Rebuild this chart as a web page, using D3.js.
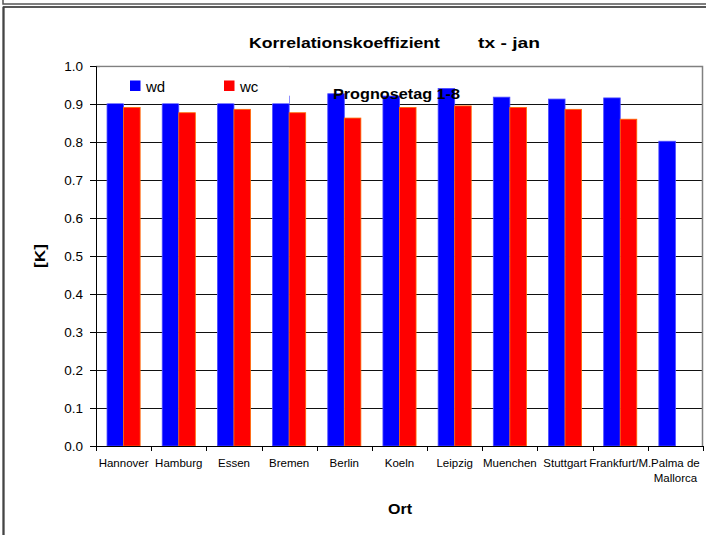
<!DOCTYPE html>
<html>
<head>
<meta charset="utf-8">
<script src="https://cdn.jsdelivr.net/npm/d3@7"></script>
<style>
  body { margin: 0; background: #fff; }
  svg { display: block; font-family: Arial, "Liberation Sans", sans-serif; }
</style>
</head>
<body>
<svg id="chart" width="706" height="535"></svg>
<script>
// Correlation coefficients per station, tx - January, forecast days 1-8
const stations = ["Hannover", "Hamburg", "Essen", "Bremen", "Berlin", "Koeln",
  "Leipzig", "Muenchen", "Stuttgart", "Frankfurt/M.", "Palma de\nMallorca"];
const seriesNames = ["wd", "wc"];
const wdValues = [0.925, 0.92, 0.925, 0.921, 0.927, 0.921, 0.941, 0.918, 0.913, 0.916, 0.802];
const wcValues = [0.891, 0.877, 0.886, 0.877, 0.863, 0.891, 0.895, 0.891, 0.886, 0.860, null];
const yTicks = [0.0, 0.1, 0.2, 0.3, 0.4, 0.5, 0.6, 0.7, 0.8, 0.9, 1.0];
const colors = { wd: "#0000ff", wc: "#ff0000" };

const svg = d3.select("#chart");
const plot = { left: 96, right: 703, top: 66, bottom: 446 };

const x0 = d3.scaleBand().domain(stations).range([plot.left, plot.right])
  .paddingInner(0.4).paddingOuter(0.2);
const x1 = d3.scaleBand().domain(seriesNames).range([0, x0.bandwidth()]);
const y = d3.scaleLinear().domain([0, 1]).range([plot.bottom, plot.top]);

// horizontal gridlines
svg.append("g").selectAll("line")
  .data(yTicks.filter(t => t > 0 && t < 1))
  .join("line")
  .attr("x1", plot.left).attr("x2", plot.right)
  .attr("y1", d => Math.round(y(d)) + 0.5).attr("y2", d => Math.round(y(d)) + 0.5)
  .attr("stroke", "#111").attr("stroke-width", 1);

// plot area border (top and right)
svg.append("path")
  .attr("d", `M${plot.left},${plot.top + 0.5}H${plot.right - 0.5}V${plot.bottom}`)
  .attr("fill", "none").attr("stroke", "#808080").attr("stroke-width", 1.5);

// bars
const rows = stations.map((s, i) => ({ station: s, wd: wdValues[i], wc: wcValues[i] }));
const groups = svg.append("g").selectAll("g")
  .data(rows).join("g")
  .attr("transform", d => `translate(${x0(d.station)},0)`);

groups.selectAll("rect")
  .data(d => seriesNames.map(k => ({ key: k, value: d[k] })).filter(e => e.value != null))
  .join("rect")
  .attr("x", d => x1(d.key))
  .attr("width", x1.bandwidth())
  .attr("y", d => y(d.value))
  .attr("height", d => y(0) - y(d.value))
  .attr("fill", d => colors[d.key])
  .attr("stroke", d => d.key === "wc" ? "#ff6a00" : "#4d4dff")
  .attr("stroke-width", 0.8);

// y axis
const yAxis = d3.axisLeft(y).tickValues(yTicks).tickFormat(d3.format(".1f"))
  .tickSize(6).tickPadding(7);
const gy = svg.append("g").attr("transform", `translate(${plot.left},0)`).call(yAxis);
gy.select(".domain").attr("stroke", "#000");
gy.selectAll(".tick line").attr("stroke", "#000");
gy.selectAll(".tick text").attr("font-size", 13.5).attr("fill", "#000")
  .attr("font-family", "Arial, 'Liberation Sans', sans-serif");

// x axis: ticks at band boundaries, labels centered below
const boundaries = stations.map(s => x0(s) - x0.step() * x0.paddingInner() / 2)
  .concat([plot.right]);
boundaries[0] = plot.left;
const gx = svg.append("g");
gx.append("line").attr("x1", plot.left).attr("x2", plot.right + 0.5)
  .attr("y1", plot.bottom + 0.5).attr("y2", plot.bottom + 0.5).attr("stroke", "#000");
gx.selectAll("line.tk").data(boundaries).join("line").attr("class", "tk")
  .attr("x1", d => Math.round(d) + 0.5).attr("x2", d => Math.round(d) + 0.5)
  .attr("y1", plot.bottom).attr("y2", plot.bottom + 5).attr("stroke", "#000");
const labels = gx.selectAll("text").data(stations).join("text")
  .attr("x", d => x0(d) + x0.bandwidth() / 2)
  .attr("y", 467)
  .attr("text-anchor", "middle")
  .attr("font-size", 11.5)
  .attr("fill", "#000");
labels.each(function (d) {
  const lines = d.split("\n");
  d3.select(this).selectAll("tspan").data(lines).join("tspan")
    .attr("x", x0(d) + x0.bandwidth() / 2)
    .attr("dy", (l, i) => i === 0 ? 0 : 15)
    .text(l => l);
});

// legend, on a white panel inside the plot
svg.append("rect").attr("x", 100).attr("y", plot.top + 1.5)
  .attr("width", 189).attr("height", y(0.9) - plot.top - 2).attr("fill", "#fff");
const legend = svg.append("g");
const legendX = [130, 224];
seriesNames.forEach((k, i) => {
  legend.append("rect").attr("x", legendX[i]).attr("y", 80.5)
    .attr("width", 10.5).attr("height", 10.5).attr("fill", colors[k]);
  legend.append("text").attr("x", legendX[i] + 16).attr("y", 91.5)
    .attr("font-size", 15).text(k);
});

// bold text items, stretched slightly wider than the plain font
function boldText(x, yPos, size, width, str, anchor) {
  return svg.append("text").attr("x", x).attr("y", yPos)
    .attr("font-size", size).attr("font-weight", "bold")
    .attr("text-anchor", anchor || "start")
    .attr("textLength", width).attr("lengthAdjust", "spacingAndGlyphs")
    .text(str);
}
boldText(249, 48, 15, 191, "Korrelationskoeffizient");
boldText(478, 48, 15, 62, "tx - jan");
boldText(333, 98.5, 14, 127, "Prognosetag 1-8");
boldText(388, 514, 14, 24, "Ort");
boldText(0, 0, 14, 24, "[K]", "middle").attr("x", null).attr("y", null)
  .attr("transform", "translate(45,256) rotate(-90)");

// surrounding frame lines
const frame = svg.append("g").attr("fill", "none");
frame.append("path").attr("d", "M3,0V4H706").attr("stroke", "#555").attr("stroke-width", 1.5);
frame.append("path").attr("d", "M3.5,535V7H706").attr("stroke", "#222").attr("stroke-width", 1.5);
frame.append("line").attr("x1", 3.5).attr("x2", 3.5).attr("y1", 7).attr("y2", 535)
  .attr("stroke", "#444").attr("stroke-width", 2);
</script>
</body>
</html>
